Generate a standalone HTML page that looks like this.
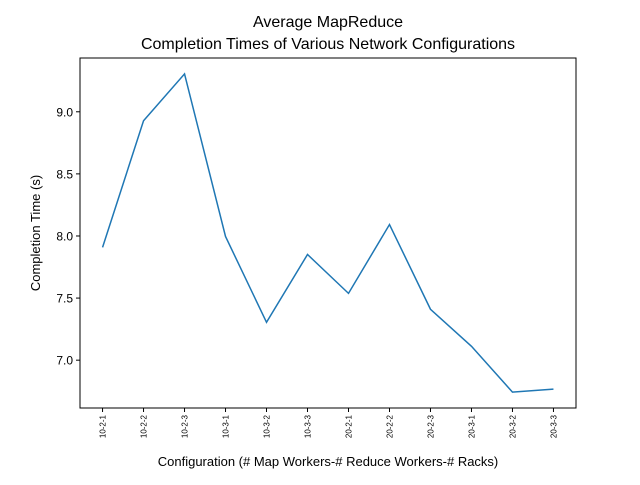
<!DOCTYPE html>
<html><head><meta charset="utf-8"><style>
body{margin:0;background:#fff}
svg{font-family:"Liberation Sans","DejaVu Sans",sans-serif}
</style></head><body>
<svg id="chart" width="640" height="480">
<text x="328" y="27" font-size="16" text-anchor="middle">Average MapReduce</text>
<text x="328" y="49" font-size="16" text-anchor="middle">Completion Times of Various Network Configurations</text>
<rect x="80" y="58" width="496" height="350" fill="none" stroke="#000" stroke-width="1"/>
<g id="yt"></g><g id="xt"></g>
<path id="line" fill="none" stroke="#1f77b4" stroke-width="1.5"/>
<text x="328" y="466" font-size="13" text-anchor="middle">Configuration (# Map Workers-# Reduce Workers-# Racks)</text>
<text transform="translate(40,233) rotate(-90)" font-size="13" text-anchor="middle">Completion Time (s)</text>
</svg>
<script>
const categories=["10-2-1","10-2-2","10-2-3","10-3-1","10-3-2","10-3-3","20-2-1","20-2-2","20-2-3","20-3-1","20-3-2","20-3-3"];
const times=[7.908,8.928,9.305,7.996,7.305,7.851,7.538,8.092,7.41,7.112,6.743,6.767];
const yTicks=[7.0,7.5,8.0,8.5,9.0];
const ns="http://www.w3.org/2000/svg";
const lo=Math.min(...times),hi=Math.max(...times),pad=(hi-lo)*0.05;
const y0=lo-pad,y1=hi+pad;
function ys(v){return 408-(v-y0)/(y1-y0)*350;}
function xs(i){const w=496,p=w/(categories.length-1)*0.05*(categories.length-1)/ (1+0.1);const n=categories.length-1;const padx=n*0.05;return 80+(i+padx)/(n+2*padx)*496;}
const yt=document.getElementById('yt');
yTicks.forEach(v=>{
 const y=ys(v);
 const l=document.createElementNS(ns,'line');
 l.setAttribute('x1',76);l.setAttribute('x2',80);l.setAttribute('y1',y);l.setAttribute('y2',y);l.setAttribute('stroke','#000');
 
 
 yt.appendChild(l);
 const t=document.createElementNS(ns,'text');
 t.setAttribute('x',73);t.setAttribute('y',y+4.5);t.setAttribute('font-size','12');t.setAttribute('text-anchor','end');
 t.textContent=v.toFixed(1);
 
 
 yt.appendChild(t);
});
const xt=document.getElementById('xt');
categories.forEach((c,i)=>{
 const x=xs(i);
 const l=document.createElementNS(ns,'line');
 l.setAttribute('x1',x);l.setAttribute('x2',x);l.setAttribute('y1',408);l.setAttribute('y2',412);l.setAttribute('stroke','#000');
 
 
 xt.appendChild(l);
 const t=document.createElementNS(ns,'text');
 t.setAttribute('transform',`translate(${x+3},415) rotate(-90)`);t.setAttribute('font-size','8');t.setAttribute('text-anchor','end');
 t.textContent=c;
 
 
 xt.appendChild(t);
});
document.getElementById('line').setAttribute('d',times.map((v,i)=>(i?'L':'M')+xs(i).toFixed(2)+','+ys(v).toFixed(2)).join(' '));
</script>
</body></html>
